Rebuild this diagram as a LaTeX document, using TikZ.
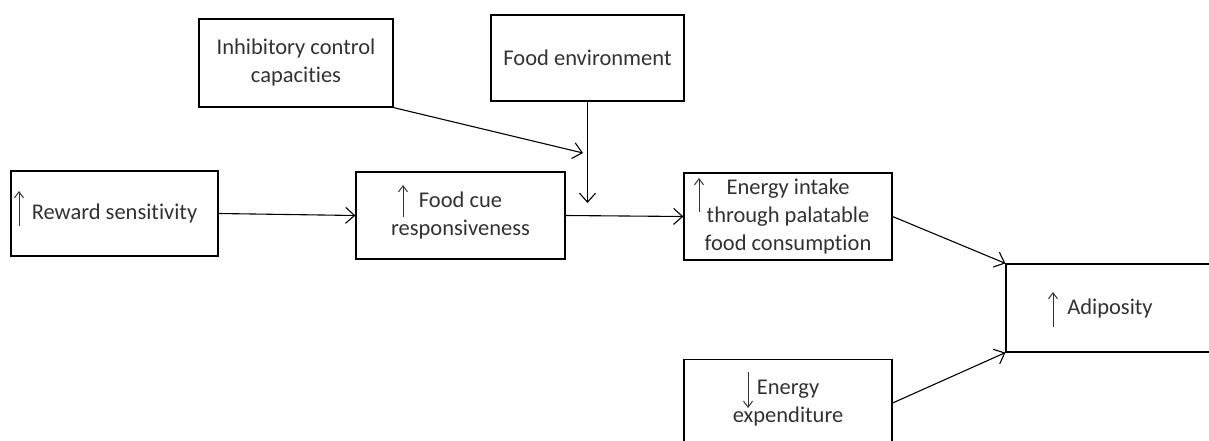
\documentclass[tikz,border=0pt]{standalone}
\usepackage{fontspec}
\setmainfont{Carlito}[Ligatures=NoCommon]
\usepackage{tikz}
\usetikzlibrary{positioning,arrows.meta}
\definecolor{txtgray}{RGB}{50,50,50}

\begin{document}
\begin{tikzpicture}[
  x=1pt, y=-1pt,
  font=\fontsize{22.5}{28}\selectfont,
  blk/.style={draw, line width=1.2pt, align=center, inner sep=2pt, text=txtgray},
  arr/.style={-{Straight Barb[length=9pt,width=16pt]}, line width=1.1pt},
  sym/.style={-{Straight Barb[length=6pt,width=9pt]}, line width=1pt, txtgray}
]
\useasboundingbox (0,0) rectangle (1209,441);
\clip (0,0) rectangle (1209,441);
\node[blk, minimum width=207pt, minimum height=85pt] at (114.5,213.5) (rew)    {Reward sensitivity};
\node[blk, minimum width=209pt, minimum height=87pt] at (460.5,215.5) (cue)    {Food cue\\responsiveness};
\node[blk, minimum width=208pt, minimum height=87pt] at (788,216.5)   (intake) {Energy intake\\through palatable\\food consumption};
\node[blk, minimum width=208pt, minimum height=88pt] at (1110,308)    (adip)   {Adiposity};
\node[blk, minimum width=208pt, minimum height=87pt] at (788,403)     (expend) {Energy\\expenditure};
\node[blk, minimum width=194pt, minimum height=88pt] at (296,63)      (inhib)  {Inhibitory control\\capacities};
\node[blk, minimum width=193pt, minimum height=86pt] at (587.5,58)    (env)    {Food environment};
\coordinate (envend) at (587.5,203);
\coordinate (modend) at (583,153);
% up / down signs in the boxes
\draw[sym] (19,226)   -- (19,191);
\draw[sym] (403,217)  -- (403,185);
\draw[sym] (699,212)  -- (699,178);
\draw[sym] (1053,327) -- (1053,292);
\draw[sym] (748,372)  -- (748,408);
% paths
\draw[arr] (rew.east) -- (cue.west);
\draw[arr] (cue.east) -- (intake.west);
\draw[arr] (env.south) -- (envend);
\draw[arr] (inhib.south east) -- (modend);
\draw[arr] (intake.east) -- (adip.north west);
\draw[arr] (expend.east) -- (adip.south west);
\end{tikzpicture}
\end{document}
